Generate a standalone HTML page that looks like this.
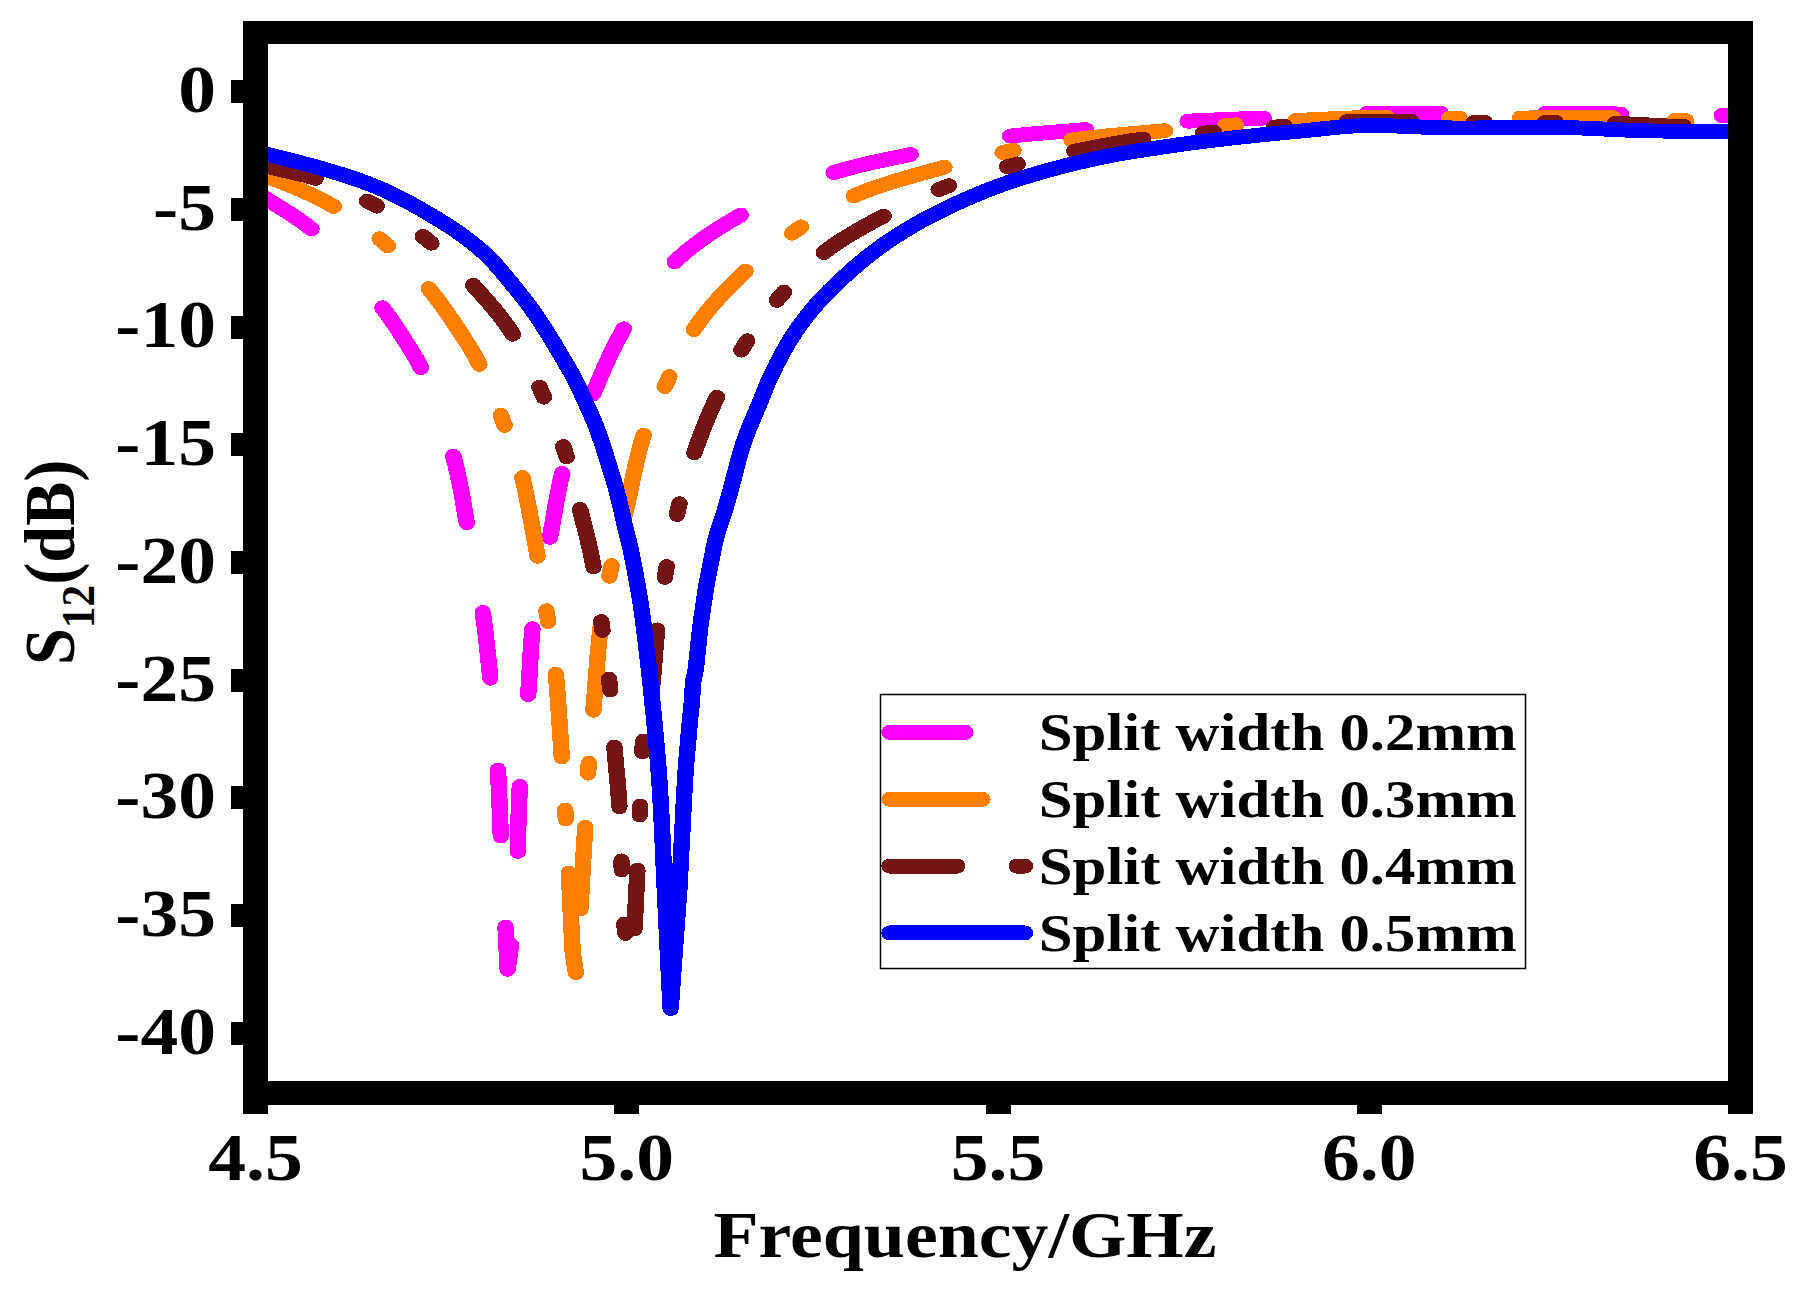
<!DOCTYPE html>
<html><head><meta charset="utf-8"><title>S12 vs Frequency</title><style>html,body{margin:0;padding:0;background:#fff}svg{display:block}</style></head><body>
<svg width="1805" height="1297" viewBox="0 0 1805 1297">
<rect x="0" y="0" width="1805" height="1297" fill="#fff"/>
<defs><clipPath id="pc"><rect x="268" y="44" width="1460" height="1037"/></clipPath></defs>
<g clip-path="url(#pc)"><g transform="scale(1.1,1)" fill="none" stroke-width="14.9" stroke-linecap="round" stroke-linejoin="round" shape-rendering="crispEdges">
<path d="M232.27,192.00 L234.57,193.63 L236.87,195.25 L239.17,196.87 L241.47,198.49 L243.77,200.10 L246.09,201.69 L248.42,203.27 L250.75,204.84 L253.08,206.40 L255.42,207.97 L257.74,209.54 L260.06,211.14 L262.36,212.75 L264.64,214.40 L266.90,216.07 L269.18,217.76 L271.45,219.45 L273.71,221.17 L275.95,222.92 L278.16,224.70 L280.32,226.52 L282.43,228.39 L283.12,229.02 M347.72,307.85 L349.37,310.23 L350.99,312.64 L352.60,315.06 L354.19,317.51 L355.76,319.97 L357.32,322.45 L358.86,324.94 L360.38,327.44 L361.89,329.95 L363.38,332.47 L364.87,334.99 L366.34,337.52 L367.83,340.05 L369.31,342.58 L370.80,345.12 L372.27,347.67 L373.73,350.24 L375.17,352.81 L376.57,355.39 L377.95,357.99 L379.28,360.61 L380.57,363.25 L381.80,365.90 L382.59,367.68 M412.03,456.06 L412.74,458.95 L413.42,461.85 L414.08,464.76 L414.72,467.68 L415.35,470.61 L415.96,473.54 L416.55,476.48 L417.12,479.43 L417.69,482.37 L418.24,485.32 L418.78,488.26 L419.31,491.21 L419.82,494.16 L420.31,497.11 L420.79,500.07 L421.25,503.03 L421.71,505.99 L422.16,508.96 L422.61,511.92 L423.06,514.89 L423.51,517.85 L423.97,520.81 L424.29,522.78 M438.87,612.49 L439.25,615.46 L439.63,618.44 L440.00,621.41 L440.36,624.39 L440.71,627.37 L441.05,630.35 L441.38,633.34 L441.71,636.32 L442.03,639.30 L442.35,642.29 L442.65,645.27 L442.95,648.26 L443.25,651.25 L443.53,654.23 L443.81,657.22 L444.09,660.21 L444.36,663.20 L444.62,666.19 L444.88,669.18 L445.14,672.17 L445.40,675.17 L445.65,678.16 M452.70,769.96 L452.86,772.96 L453.00,775.96 L453.14,778.96 L453.27,781.96 L453.39,784.96 L453.51,787.96 L453.63,790.96 L453.74,793.97 L453.86,796.97 L453.97,799.97 L454.09,802.97 L454.20,805.97 L454.31,808.97 L454.42,811.98 L454.53,814.98 L454.63,817.98 L454.74,820.98 L454.84,823.98 L454.95,826.99 L455.06,829.99 L455.17,832.99 L455.29,835.99 M459.55,927.00 L459.68,930.02 L459.82,933.04 L459.95,936.06 L460.09,939.09 L460.23,942.11 L460.36,945.13 L460.50,948.15 L460.64,951.17 L460.77,954.19 L460.91,957.21 L461.05,960.24 L461.18,963.26 L461.32,966.28 L461.45,969.30 L461.85,966.28 L462.24,963.27 L462.64,960.25 L463.03,957.23 L463.42,954.22 L463.82,951.20 L464.21,948.18 L464.61,945.17 M470.82,851.40 L470.83,848.39 L470.86,845.39 L470.89,842.38 L470.93,839.38 L470.98,836.37 L471.03,833.37 L471.09,830.36 L471.16,827.36 L471.24,824.36 L471.32,821.36 L471.41,818.35 L471.50,815.35 L471.59,812.35 L471.69,809.35 L471.80,806.35 L471.90,803.35 L472.01,800.35 L472.12,797.35 L472.24,794.35 L472.35,791.36 L472.47,788.36 L472.55,786.36 M480.18,694.65 L480.38,691.66 L480.57,688.66 L480.74,685.66 L480.91,682.66 L481.08,679.66 L481.24,676.66 L481.39,673.65 L481.54,670.65 L481.69,667.64 L481.84,664.64 L481.98,661.64 L482.14,658.63 L482.29,655.63 L482.45,652.63 L482.62,649.63 L482.79,646.64 L482.97,643.64 L483.16,640.65 L483.37,637.67 L483.59,634.68 L483.82,631.70 L484.06,628.72 M499.98,537.30 L500.49,534.34 L500.99,531.39 L501.48,528.42 L501.96,525.46 L502.43,522.49 L502.90,519.52 L503.37,516.54 L503.84,513.57 L504.31,510.60 L504.78,507.63 L505.26,504.66 L505.74,501.70 L506.24,498.74 L506.74,495.78 L507.26,492.84 L507.80,489.90 L508.35,486.96 L508.92,484.04 L509.51,481.13 L510.12,478.22 L510.76,475.33 L511.20,473.41 M539.07,394.04 L540.15,391.28 L541.22,388.52 L542.29,385.75 L543.37,382.97 L544.45,380.20 L545.53,377.42 L546.62,374.65 L547.72,371.88 L548.83,369.11 L549.95,366.35 L551.07,363.59 L552.21,360.84 L553.36,358.10 L554.52,355.36 L555.70,352.64 L556.89,349.94 L558.10,347.24 L559.32,344.56 L560.57,341.90 L561.83,339.26 L563.11,336.64 L564.42,334.03 L565.74,331.45 L567.10,328.89 M613.34,261.91 L615.25,259.91 L617.21,257.93 L619.20,255.97 L621.22,254.03 L623.28,252.11 L625.37,250.21 L627.49,248.33 L629.64,246.47 L631.81,244.63 L634.01,242.81 L636.23,241.01 L638.47,239.23 L640.73,237.47 L643.01,235.73 L645.31,234.02 L647.62,232.32 L649.94,230.64 L652.27,228.99 L654.61,227.35 L656.96,225.74 L659.31,224.14 L661.67,222.57 L664.03,221.01 L666.39,219.48 L668.74,217.97 L671.09,216.48 L673.44,215.01 M757.88,172.60 L760.46,171.73 L763.05,170.89 L765.65,170.07 L768.26,169.26 L770.87,168.48 L773.50,167.71 L776.14,166.96 L778.78,166.23 L781.43,165.51 L784.09,164.81 L786.75,164.11 L789.42,163.44 L792.09,162.77 L794.77,162.11 L797.45,161.46 L800.13,160.82 L802.82,160.19 L805.50,159.57 L808.19,158.95 L810.88,158.33 L813.56,157.72 L816.25,157.11 L818.93,156.50 L821.61,155.89 L824.29,155.28 L826.96,154.67 L827.85,154.47 M918.24,136.16 L920.95,135.82 L923.65,135.50 L926.36,135.18 L929.07,134.88 L931.79,134.59 L934.50,134.30 L937.22,134.03 L939.94,133.76 L942.66,133.50 L945.38,133.25 L948.10,133.00 L950.83,132.76 L953.55,132.52 L956.27,132.29 L959.00,132.05 L961.72,131.82 L964.45,131.59 L967.18,131.36 L969.90,131.13 L972.63,130.90 L975.35,130.67 L978.07,130.43 L980.80,130.19 L983.52,129.95 L986.24,129.70 L987.15,129.62 M1079.65,121.22 L1082.38,121.06 L1085.10,120.90 L1087.83,120.75 L1090.56,120.60 L1093.28,120.46 L1096.01,120.33 L1098.74,120.19 L1101.46,120.06 L1104.19,119.94 L1106.92,119.81 L1109.65,119.69 L1112.37,119.57 L1115.10,119.46 L1117.83,119.34 L1120.56,119.22 L1123.29,119.11 L1126.02,119.00 L1128.75,118.88 L1131.47,118.77 L1134.20,118.65 L1136.93,118.53 L1139.66,118.42 L1142.39,118.29 L1145.12,118.17 L1147.84,118.05 L1148.75,118.00 M1242.39,113.50 L1245.12,113.49 L1247.85,113.47 L1250.58,113.46 L1253.31,113.45 L1256.04,113.43 L1258.77,113.42 L1261.50,113.41 L1264.23,113.40 L1266.96,113.39 L1269.69,113.38 L1272.42,113.37 L1275.15,113.36 L1277.88,113.35 L1280.61,113.34 L1283.34,113.33 L1286.07,113.33 L1288.80,113.32 L1291.53,113.32 L1294.26,113.31 L1296.99,113.31 L1299.72,113.31 L1302.45,113.30 L1305.18,113.30 L1307.91,113.30 L1309.73,113.30 M1404.37,113.50 L1407.10,113.51 L1409.83,113.52 L1412.56,113.53 L1415.29,113.54 L1418.02,113.56 L1420.75,113.57 L1423.48,113.59 L1426.21,113.61 L1428.94,113.62 L1431.67,113.64 L1434.40,113.66 L1437.13,113.68 L1439.86,113.70 L1442.59,113.72 L1445.32,113.74 L1448.05,113.77 L1450.78,113.79 L1453.51,113.81 L1456.24,113.84 L1458.97,113.86 L1461.70,113.89 L1464.43,113.91 L1467.16,113.94 L1469.89,113.96 L1472.62,113.99 L1473.53,114.00 M1565.43,115.50 L1568.16,115.50 L1570.89,115.50 L1573.62,115.50 L1576.35,115.50 L1579.08,115.50 L1581.81,115.50 L1584.54,115.50 L1586.36,115.50" stroke="#ff00ff"/>
<path d="M232.27,173.00 L234.89,173.87 L237.51,174.75 L240.11,175.67 L242.69,176.63 L245.25,177.64 L247.82,178.68 L250.38,179.73 L252.94,180.80 L255.49,181.88 L258.05,182.98 L260.60,184.10 L263.15,185.24 L265.69,186.39 L268.23,187.56 L270.76,188.75 L273.28,189.96 L275.80,191.18 L278.30,192.43 L280.79,193.69 L283.28,194.97 L285.75,196.27 L288.21,197.58 L290.65,198.92 L293.08,200.27 L295.49,201.65 L297.89,203.04 L300.27,204.45 L302.64,205.88 L303.42,206.37 M389.80,288.64 L391.53,290.95 L393.24,293.28 L394.92,295.64 L396.59,298.01 L398.24,300.41 L399.88,302.82 L401.50,305.25 L403.10,307.70 L404.69,310.15 L406.27,312.62 L407.83,315.10 L409.38,317.58 L410.92,320.06 L412.45,322.55 L413.97,325.05 L415.48,327.54 L417.00,330.04 L418.52,332.55 L420.02,335.07 L421.52,337.60 L423.01,340.14 L424.49,342.68 L425.94,345.24 L427.38,347.81 L428.79,350.39 L430.18,352.98 L431.53,355.58 L432.86,358.20 L434.14,360.83 L435.40,363.48 L435.80,364.37 M474.91,477.60 L475.56,480.51 L476.18,483.42 L476.78,486.34 L477.36,489.28 L477.92,492.22 L478.46,495.17 L478.99,498.12 L479.51,501.08 L480.02,504.04 L480.52,507.00 L481.02,509.96 L481.52,512.92 L482.02,515.88 L482.53,518.83 L483.04,521.78 L483.54,524.74 L484.04,527.69 L484.54,530.65 L485.03,533.60 L485.51,536.56 L486.00,539.52 L486.47,542.48 L486.95,545.44 L487.42,548.40 L487.89,551.36 L488.35,554.32 L488.66,556.29 M505.24,674.08 L505.51,677.07 L505.77,680.05 L506.01,683.05 L506.24,686.04 L506.46,689.03 L506.68,692.03 L506.89,695.03 L507.09,698.03 L507.28,701.02 L507.48,704.02 L507.67,707.02 L507.86,710.02 L508.05,713.02 L508.25,716.02 L508.44,719.01 L508.62,722.01 L508.80,725.01 L508.98,728.01 L509.16,731.01 L509.33,734.01 L509.51,737.01 L509.68,740.00 L509.85,743.00 L510.02,746.00 L510.19,749.00 L510.37,752.00 L510.54,755.00 L510.66,757.00 M517.18,872.96 L517.32,875.97 L517.45,878.97 L517.59,881.97 L517.72,884.97 L517.84,887.97 L517.97,890.97 L518.09,893.98 L518.21,896.98 L518.33,899.98 L518.45,902.98 L518.57,905.98 L518.70,908.99 L518.82,911.99 L518.94,914.99 L519.07,917.99 L519.19,920.99 L519.32,923.99 L519.45,927.00 L519.59,930.00 L519.73,933.00 L519.87,936.00 L520.02,939.00 L520.17,942.00 L520.32,945.00 L520.47,948.00 L520.62,951.00 L520.87,953.99 L521.29,956.96 L521.71,959.93 L522.14,962.90 L522.56,965.87 L522.98,968.84 L523.40,971.81 L523.55,972.80 M527.73,909.00 L527.88,906.00 L528.02,903.00 L528.17,900.01 L528.32,897.01 L528.47,894.01 L528.63,891.01 L528.78,888.02 L528.93,885.02 L529.08,882.02 L529.24,879.02 L529.39,876.03 L529.55,873.03 L529.70,870.03 L529.86,867.04 L530.02,864.04 L530.18,861.04 L530.34,858.05 L530.50,855.05 L530.67,852.05 L530.83,849.06 L531.00,846.06 L531.16,843.06 L531.33,840.07 L531.49,837.07 L531.65,834.07 L531.81,831.07 L531.97,828.08 L532.02,827.08 M539.43,710.29 L539.66,707.30 L539.89,704.31 L540.11,701.32 L540.33,698.32 L540.54,695.33 L540.75,692.33 L540.96,689.33 L541.17,686.34 L541.38,683.34 L541.59,680.34 L541.79,677.35 L542.00,674.35 L542.21,671.35 L542.43,668.36 L542.65,665.36 L542.87,662.37 L543.09,659.38 L543.32,656.39 L543.56,653.39 L543.81,650.41 L544.06,647.42 L544.31,644.43 L544.58,641.45 L544.86,638.46 L545.14,635.48 L545.44,632.51 L545.75,629.53 L545.96,627.55 M568.11,514.14 L568.75,511.22 L569.38,508.30 L570.00,505.36 L570.60,502.43 L571.19,499.49 L571.78,496.54 L572.36,493.59 L572.93,490.64 L573.50,487.69 L574.06,484.74 L574.63,481.79 L575.20,478.83 L575.77,475.88 L576.34,472.94 L576.93,470.00 L577.52,467.06 L578.12,464.12 L578.73,461.20 L579.36,458.28 L580.00,455.36 L580.66,452.46 L581.34,449.57 L582.04,446.68 L582.76,443.81 L583.50,440.95 L584.27,438.10 L585.07,435.26 M630.78,329.60 L632.27,327.16 L633.80,324.73 L635.36,322.32 L636.96,319.92 L638.60,317.54 L640.26,315.17 L641.96,312.81 L643.68,310.48 L645.43,308.15 L647.21,305.85 L649.01,303.55 L650.83,301.28 L652.67,299.02 L654.54,296.77 L656.41,294.54 L658.31,292.33 L660.22,290.13 L662.14,287.95 L664.07,285.78 L666.01,283.63 L667.96,281.49 L669.91,279.38 L671.87,277.27 L673.83,275.19 L675.79,273.12 L677.75,271.06 M776.14,195.90 L778.61,194.76 L781.09,193.63 L783.59,192.53 L786.10,191.46 L788.63,190.40 L791.17,189.37 L793.72,188.36 L796.28,187.36 L798.85,186.38 L801.44,185.42 L804.03,184.48 L806.63,183.55 L809.24,182.64 L811.86,181.74 L814.48,180.86 L817.11,179.98 L819.75,179.12 L822.38,178.27 L825.03,177.43 L827.67,176.59 L830.32,175.76 L832.97,174.94 L835.62,174.13 L838.27,173.32 L840.92,172.52 L843.57,171.72 L846.22,170.92 L848.87,170.12 L851.51,169.32 L854.14,168.53 L856.78,167.73 L858.53,167.19 M974.11,139.96 L976.81,139.58 L979.51,139.21 L982.22,138.84 L984.92,138.49 L987.63,138.14 L990.34,137.80 L993.05,137.47 L995.76,137.15 L998.47,136.83 L1001.19,136.52 L1003.90,136.21 L1006.62,135.92 L1009.34,135.62 L1012.06,135.33 L1014.77,135.05 L1017.49,134.77 L1020.21,134.49 L1022.93,134.22 L1025.65,133.95 L1028.38,133.68 L1031.10,133.41 L1033.82,133.15 L1036.54,132.89 L1039.26,132.63 L1041.98,132.36 L1044.70,132.10 L1047.42,131.84 L1050.14,131.58 L1052.86,131.32 L1055.58,131.05 L1058.30,130.79 L1059.21,130.70 M1178.02,120.52 L1180.75,120.38 L1183.47,120.23 L1186.20,120.08 L1188.92,119.93 L1191.65,119.79 L1194.37,119.64 L1197.10,119.49 L1199.83,119.34 L1202.55,119.20 L1205.28,119.06 L1208.01,118.92 L1210.74,118.78 L1213.46,118.65 L1216.19,118.52 L1218.92,118.39 L1221.65,118.27 L1224.38,118.15 L1227.10,118.04 L1229.83,117.94 L1232.56,117.84 L1235.29,117.75 L1238.02,117.66 L1240.75,117.59 L1243.48,117.52 L1246.20,117.46 L1248.93,117.41 L1251.66,117.37 L1254.39,117.33 L1257.12,117.31 L1259.85,117.30 L1260.75,117.30 M1381.74,118.00 L1384.47,117.98 L1387.20,117.97 L1389.93,117.95 L1392.65,117.93 L1395.38,117.91 L1398.11,117.90 L1400.84,117.88 L1403.57,117.86 L1406.30,117.84 L1409.03,117.82 L1411.76,117.81 L1414.49,117.79 L1417.22,117.77 L1419.95,117.76 L1422.68,117.74 L1425.41,117.73 L1428.14,117.71 L1430.87,117.70 L1433.60,117.68 L1436.33,117.67 L1439.06,117.66 L1441.79,117.65 L1444.51,117.64 L1447.24,117.63 L1449.97,117.62 L1452.70,117.62 L1455.43,117.61 L1458.16,117.61 L1460.89,117.60 L1463.61,117.60 L1466.34,117.60 M345.12,238.73 L347.20,240.66 L349.26,242.59 L351.30,244.54 L352.65,245.86 M455.23,415.15 L456.20,417.96 L457.16,420.77 L458.13,423.57 L458.78,425.45 M496.76,610.66 L497.18,613.63 L497.59,616.60 L498.02,619.56 L498.30,621.54 M513.84,809.97 L514.01,812.97 L514.18,815.97 L514.35,818.97 M534.66,773.12 L534.83,770.12 L535.01,767.13 L535.20,764.13 L535.27,763.14 M553.93,576.24 L554.48,573.31 L555.03,570.37 L555.60,567.44 L555.99,565.49 M604.24,386.59 L605.42,383.88 L606.59,381.17 L607.75,378.45 L608.53,376.63 M720.10,233.13 L722.33,231.42 L724.56,229.72 L726.79,228.02 L728.29,226.89 M911.47,152.54 L914.14,151.91 L916.80,151.29 L919.47,150.68 L921.25,150.28 M1113.60,125.72 L1116.32,125.48 L1119.04,125.25 L1121.77,125.02 L1123.58,124.86 M1317.15,118.48 L1319.88,118.50 L1322.61,118.50 L1325.34,118.50 L1327.15,118.49 M1522.69,120.52 L1525.41,120.58 L1528.14,120.62 L1530.87,120.65 L1532.69,120.67" stroke="#ff8000"/>
<path d="M232.27,163.00 L234.89,163.85 L237.51,164.70 L240.14,165.53 L242.77,166.34 L245.41,167.12 L248.06,167.86 L250.72,168.58 L253.39,169.28 L256.06,169.95 L258.74,170.62 L261.42,171.28 L264.09,171.94 L266.77,172.60 L269.44,173.28 L272.10,173.96 L274.76,174.67 L277.40,175.40 L280.03,176.17 L282.65,176.97 L285.25,177.81 L286.97,178.39 M430.17,285.15 L431.99,287.37 L433.82,289.60 L435.65,291.84 L437.48,294.09 L439.31,296.35 L441.14,298.62 L442.95,300.89 L444.76,303.18 L446.55,305.48 L448.33,307.80 L450.10,310.13 L451.84,312.47 L453.56,314.82 L455.25,317.19 L456.92,319.58 L458.56,321.98 L460.17,324.40 L461.74,326.83 L463.27,329.28 L464.77,331.76 L466.22,334.25 M527.37,509.42 L528.03,512.34 L528.70,515.25 L529.37,518.17 L530.04,521.09 L530.72,524.00 L531.40,526.92 L532.07,529.84 L532.74,532.76 L533.40,535.68 L534.05,538.60 L534.70,541.52 L535.33,544.45 L535.95,547.37 L536.56,550.30 L537.14,553.24 L537.71,556.17 L538.26,559.11 L538.78,562.06 L539.28,565.00 L539.60,566.97 M558.57,747.00 L558.80,749.99 L559.03,752.99 L559.27,755.98 L559.52,758.98 L559.77,761.97 L560.02,764.97 L560.28,767.96 L560.53,770.95 L560.79,773.95 L561.04,776.94 L561.29,779.93 L561.53,782.93 L561.76,785.92 L561.99,788.91 L562.21,791.91 L562.42,794.91 L562.61,797.90 L562.79,800.90 L562.96,803.90 L563.10,806.89 M576.82,929.00 L576.95,926.00 L577.09,923.00 L577.22,920.00 L577.35,917.00 L577.49,914.00 L577.62,911.00 L577.76,908.00 L577.89,905.00 L578.02,902.00 L578.16,899.00 L578.29,896.00 L578.43,893.00 L578.56,890.00 L578.69,887.00 L578.83,884.00 L578.96,881.00 L579.10,878.00 L579.23,875.00 L579.37,872.00 L579.45,870.00 M592.55,689.67 L592.86,686.69 L593.15,683.71 L593.43,680.73 L593.69,677.74 L593.94,674.75 L594.18,671.76 L594.40,668.77 L594.62,665.77 L594.84,662.78 L595.05,659.78 L595.27,656.78 L595.48,653.79 L595.70,650.79 L595.92,647.80 L596.15,644.80 L596.39,641.81 L596.63,638.82 L596.90,635.83 L597.17,632.85 L597.47,629.87 M631.26,452.83 L632.14,450.00 L633.03,447.17 L633.95,444.34 L634.88,441.52 L635.83,438.70 L636.79,435.89 L637.77,433.08 L638.77,430.28 L639.78,427.48 L640.80,424.69 L641.84,421.90 L642.89,419.12 L643.96,416.35 L645.03,413.58 L646.12,410.82 L647.21,408.07 L648.32,405.33 L649.44,402.59 L650.56,399.86 L651.70,397.14 M748.93,252.54 L751.05,250.74 L753.20,248.97 L755.38,247.23 L757.59,245.51 L759.82,243.82 L762.08,242.15 L764.36,240.51 L766.66,238.88 L768.98,237.28 L771.31,235.70 L773.67,234.13 L776.03,232.59 L778.41,231.06 L780.80,229.54 L783.20,228.04 L785.60,226.56 L788.01,225.09 L790.42,223.63 L792.84,222.18 L795.25,220.74 L797.67,219.31 L800.08,217.89 L802.48,216.48 L803.28,216.01 M976.65,151.24 L979.32,150.65 L982.00,150.06 L984.67,149.47 L987.35,148.88 L990.03,148.30 L992.71,147.71 L995.39,147.14 L998.08,146.56 L1000.76,145.99 L1003.45,145.43 L1006.13,144.88 L1008.82,144.33 L1011.51,143.79 L1014.20,143.27 L1016.89,142.75 L1019.58,142.25 L1022.28,141.76 L1024.97,141.28 L1027.67,140.82 L1030.36,140.38 L1033.06,139.95 L1035.76,139.54 L1038.46,139.15 L1039.36,139.03 M1224.30,121.60 L1227.02,121.60 L1229.75,121.60 L1232.48,121.60 L1235.21,121.60 L1237.94,121.60 L1240.66,121.60 L1243.39,121.60 L1246.12,121.60 L1248.85,121.60 L1251.58,121.60 L1254.32,121.60 L1257.05,121.60 L1259.78,121.60 L1262.51,121.60 L1265.24,121.60 L1267.97,121.60 L1270.70,121.60 L1273.43,121.60 L1276.16,121.60 L1278.89,121.60 L1281.62,121.60 L1283.44,121.60 M1468.14,123.40 L1470.87,123.48 L1473.60,123.57 L1476.32,123.68 L1479.05,123.81 L1481.78,123.95 L1484.51,124.09 L1487.23,124.25 L1489.96,124.42 L1492.69,124.58 L1495.41,124.76 L1498.14,124.93 L1500.86,125.10 L1503.59,125.28 L1506.32,125.44 L1509.04,125.61 L1511.77,125.76 L1514.50,125.91 L1517.22,126.04 L1519.95,126.17 L1522.68,126.27 L1525.41,126.37 L1528.13,126.44 L1530.86,126.50 M333.71,200.94 L336.11,202.34 L338.50,203.74 L340.88,205.16 L342.47,206.12 M384.47,236.39 L386.60,238.22 L388.71,240.07 L390.80,241.94 L392.18,243.22 M490.41,387.02 L491.52,389.77 L492.62,392.51 L493.71,395.26 L494.44,397.09 M512.14,446.53 L512.99,449.38 L513.80,452.23 L514.60,455.09 L515.12,457.00 M546.61,621.52 L546.98,624.50 L547.35,627.48 L547.73,630.45 M553.72,679.10 L554.01,682.09 L554.28,685.07 L554.53,688.06 L554.70,690.06 M564.95,860.95 L565.05,863.95 L565.16,866.96 L565.27,869.96 M567.52,924.09 L567.89,927.23 L568.26,930.36 L568.64,933.50 M581.66,815.00 L581.78,812.00 L581.89,809.00 L582.00,806.00 M583.97,751.98 L584.13,748.99 L584.31,746.01 L584.53,743.03 L584.71,741.04 M604.44,577.37 L604.89,574.41 L605.34,571.45 L605.80,568.49 L606.11,566.52 M615.43,514.46 L616.04,511.54 L616.66,508.62 L617.29,505.70 L617.73,503.76 M674.09,350.11 L675.49,347.56 L676.91,345.02 L678.36,342.49 L679.33,340.81 M706.24,300.34 L707.98,298.05 L709.73,295.78 L711.49,293.51 L712.68,291.99 M853.36,189.60 L855.89,188.49 L858.41,187.41 L860.95,186.34 L862.64,185.63 M915.49,166.79 L918.12,166.00 L920.74,165.22 L923.38,164.46 L925.14,163.96 M1093.70,133.14 L1096.41,132.88 L1099.13,132.61 L1101.85,132.34 L1103.66,132.16 M1158.07,127.13 L1160.79,126.89 L1163.51,126.65 L1166.23,126.40 L1168.04,126.23 M1339.85,122.39 L1342.58,122.40 L1345.31,122.40 L1348.04,122.40 L1349.86,122.40 M1404.46,122.40 L1407.18,122.40 L1409.91,122.40 L1412.64,122.40 L1414.46,122.41" stroke="#741414"/>
<path d="M232.27,151.00 L234.91,151.79 L237.54,152.59 L240.18,153.37 L242.81,154.16 L245.45,154.93 L248.09,155.69 L250.74,156.45 L253.38,157.19 L256.03,157.93 L258.68,158.67 L261.33,159.40 L263.98,160.14 L266.63,160.87 L269.28,161.61 L271.92,162.35 L274.57,163.10 L277.21,163.86 L279.85,164.62 L282.48,165.40 L285.12,166.19 L287.74,167.00 L290.37,167.83 L292.99,168.67 L295.61,169.51 L298.23,170.36 L300.85,171.21 L303.48,172.08 L306.10,172.95 L308.72,173.84 L311.34,174.73 L313.95,175.64 L316.55,176.57 L319.15,177.50 L321.75,178.46 L324.33,179.43 L326.90,180.43 L329.47,181.44 L332.02,182.48 L334.56,183.54 L337.09,184.62 L339.60,185.73 L342.11,186.87 L344.62,188.04 L347.12,189.24 L349.61,190.47 L352.10,191.72 L354.58,193.00 L357.05,194.30 L359.52,195.63 L361.97,196.98 L364.42,198.34 L366.86,199.73 L369.29,201.13 L371.71,202.55 L374.12,203.98 L376.52,205.43 L378.91,206.89 L381.29,208.37 L383.66,209.85 L386.01,211.34 L388.36,212.85 L390.70,214.36 L393.04,215.89 L395.39,217.44 L397.73,219.01 L400.07,220.60 L402.41,222.20 L404.74,223.82 L407.06,225.46 L409.37,227.12 L411.67,228.79 L413.95,230.49 L416.22,232.21 L418.48,233.95 L420.71,235.70 L422.93,237.48 L425.12,239.28 L427.29,241.11 L429.43,242.95 L431.55,244.82 L433.64,246.70 L435.69,248.62 L437.72,250.55 L439.71,252.52 L441.68,254.54 L443.61,256.60 L445.53,258.72 L447.41,260.87 L449.28,263.06 L451.13,265.28 L452.95,267.53 L454.76,269.81 L456.55,272.11 L458.33,274.42 L460.10,276.75 L461.85,279.09 L463.60,281.44 L465.33,283.79 L467.06,286.13 L468.79,288.47 L470.51,290.80 L472.22,293.13 L473.92,295.48 L475.61,297.85 L477.28,300.23 L478.93,302.62 L480.57,305.03 L482.19,307.45 L483.79,309.88 L485.38,312.33 L486.94,314.79 L488.48,317.26 L490.01,319.75 L491.51,322.26 L493.00,324.78 L494.48,327.31 L495.95,329.84 L497.41,332.39 L498.86,334.93 L500.30,337.48 L501.73,340.04 L503.15,342.60 L504.55,345.18 L505.95,347.76 L507.34,350.35 L508.73,352.93 L510.11,355.52 L511.49,358.11 L512.88,360.70 L514.28,363.28 L515.68,365.87 L517.08,368.46 L518.45,371.05 L519.81,373.66 L521.13,376.29 L522.41,378.93 L523.64,381.61 L524.83,384.30 L525.99,387.02 L527.12,389.76 L528.23,392.51 L529.34,395.26 L530.45,398.00 L531.58,400.74 L532.72,403.47 L533.88,406.19 L535.04,408.92 L536.19,411.64 L537.32,414.38 L538.43,417.12 L539.50,419.88 L540.53,422.66 L541.52,425.45 L542.49,428.26 L543.43,431.08 L544.36,433.91 L545.26,436.74 L546.15,439.59 L547.03,442.43 L547.90,445.28 L548.76,448.13 L549.60,450.99 L550.42,453.85 L551.23,456.72 L552.04,459.59 L552.84,462.46 L553.64,465.33 L554.45,468.20 L555.26,471.07 L556.08,473.94 L556.89,476.81 L557.69,479.68 L558.47,482.56 L559.24,485.44 L559.97,488.33 L560.68,491.23 L561.37,494.13 L562.04,497.05 L562.70,499.96 L563.34,502.88 L563.98,505.81 L564.60,508.73 L565.23,511.65 L565.83,514.58 L566.41,517.52 L566.98,520.46 L567.56,523.40 L568.14,526.33 L568.74,529.26 L569.38,532.18 L570.08,535.08 L570.86,537.96 L571.56,540.86 L572.20,543.78 L572.81,546.71 L573.39,549.64 L573.96,552.58 L574.51,555.53 L575.05,558.47 L575.59,561.42 L576.12,564.36 L576.63,567.31 L577.14,570.26 L577.64,573.22 L578.13,576.17 L578.61,579.13 L579.09,582.09 L579.56,585.05 L580.03,588.00 L580.50,590.96 L580.96,593.93 L581.41,596.89 L581.86,599.85 L582.29,602.82 L582.71,605.78 L583.11,608.75 L583.49,611.73 L583.87,614.70 L584.23,617.68 L584.59,620.66 L584.94,623.64 L585.29,626.62 L585.64,629.60 L585.98,632.58 L586.31,635.56 L586.65,638.54 L586.97,641.52 L587.30,644.50 L587.62,647.49 L587.94,650.47 L588.27,653.45 L588.59,656.43 L588.91,659.42 L589.23,662.40 L589.55,665.38 L589.86,668.37 L590.17,671.35 L590.47,674.34 L590.76,677.32 L591.05,680.31 L591.34,683.30 L591.62,686.28 L591.90,689.27 L592.18,692.26 L592.45,695.25 L592.73,698.24 L593.00,701.22 L593.28,704.21 L593.55,707.20 L593.83,710.19 L594.10,713.18 L594.37,716.17 L594.63,719.16 L594.90,722.15 L595.15,725.14 L595.41,728.13 L595.66,731.12 L595.90,734.11 L596.15,737.10 L596.39,740.09 L596.63,743.09 L596.87,746.08 L597.11,749.07 L597.35,752.06 L597.59,755.05 L597.83,758.05 L598.07,761.04 L598.29,764.03 L598.51,767.03 L598.72,770.02 L598.92,773.02 L599.11,776.01 L599.30,779.01 L599.48,782.01 L599.66,785.00 L599.83,788.00 L600.00,791.00 L600.17,794.00 L600.33,797.00 L600.49,799.99 L600.64,802.99 L600.79,805.99 L600.94,808.99 L601.08,811.99 L601.23,814.99 L601.36,817.99 L601.50,820.99 L601.64,823.99 L601.77,826.99 L601.91,829.99 L602.04,832.99 L602.17,835.99 L602.30,838.99 L602.43,841.99 L602.56,844.99 L602.68,847.99 L602.80,850.99 L602.92,853.99 L603.04,856.99 L603.16,859.99 L603.27,863.00 L603.38,866.00 L603.49,869.00 L603.60,872.00 L603.72,875.01 L603.86,878.02 L603.99,881.03 L604.12,884.04 L604.25,887.05 L604.39,890.06 L604.52,893.07 L604.65,896.08 L604.78,899.10 L604.92,902.11 L605.05,905.12 L605.18,908.13 L605.31,911.14 L605.45,914.15 L605.58,917.16 L605.71,920.17 L605.84,923.18 L605.97,926.19 L606.11,929.21 L606.24,932.22 L606.37,935.23 L606.50,938.24 L606.64,941.25 L606.77,944.26 L606.90,947.27 L607.03,950.28 L607.17,953.29 L607.30,956.31 L607.43,959.32 L607.56,962.33 L607.70,965.34 L607.83,968.35 L607.96,971.36 L608.09,974.37 L608.22,977.38 L608.36,980.39 L608.49,983.40 L608.62,986.42 L608.75,989.43 L608.89,992.44 L609.02,995.45 L609.15,998.46 L609.28,1001.47 L609.42,1004.48 L609.55,1007.49 L609.70,1008.50 L609.90,1005.50 L610.10,1002.51 L610.29,999.51 L610.49,996.51 L610.69,993.51 L610.89,990.52 L611.08,987.52 L611.28,984.52 L611.48,981.52 L611.68,978.53 L611.87,975.53 L612.07,972.53 L612.27,969.53 L612.46,966.53 L612.66,963.54 L612.86,960.54 L613.06,957.54 L613.25,954.54 L613.45,951.55 L613.65,948.55 L613.85,945.55 L614.04,942.55 L614.24,939.56 L614.44,936.56 L614.64,933.56 L614.83,930.56 L615.03,927.57 L615.23,924.57 L615.42,921.57 L615.62,918.57 L615.82,915.58 L616.02,912.58 L616.21,909.58 L616.41,906.58 L616.61,903.59 L616.81,900.59 L617.00,897.59 L617.20,894.59 L617.40,891.60 L617.60,888.60 L617.77,885.60 L617.91,882.60 L618.05,879.60 L618.19,876.60 L618.33,873.61 L618.46,870.61 L618.60,867.61 L618.74,864.61 L618.88,861.61 L619.02,858.61 L619.16,855.61 L619.30,852.62 L619.44,849.62 L619.58,846.62 L619.72,843.62 L619.86,840.62 L620.00,837.62 L620.14,834.63 L620.28,831.63 L620.42,828.63 L620.56,825.63 L620.70,822.63 L620.84,819.63 L620.97,816.63 L621.11,813.64 L621.25,810.64 L621.38,807.64 L621.52,804.64 L621.66,801.64 L621.80,798.64 L621.95,795.64 L622.10,792.65 L622.25,789.65 L622.41,786.65 L622.57,783.65 L622.74,780.66 L622.91,777.66 L623.08,774.66 L623.27,771.67 L623.46,768.67 L623.67,765.68 L623.89,762.69 L624.13,759.70 L624.37,756.71 L624.61,753.72 L624.85,750.73 L625.09,747.73 L625.33,744.74 L625.55,741.75 L625.78,738.76 L626.01,735.77 L626.24,732.77 L626.47,729.78 L626.71,726.79 L626.96,723.80 L627.22,720.81 L627.50,717.83 L627.78,714.84 L628.06,711.85 L628.34,708.87 L628.60,705.88 L628.85,702.89 L629.08,699.89 L629.26,696.89 L629.43,693.88 L629.59,690.88 L629.77,687.88 L629.98,684.89 L630.25,681.91 L630.61,678.96 L631.31,676.05 L631.94,673.12 L632.35,670.17 L632.71,667.20 L633.03,664.22 L633.32,661.23 L633.59,658.23 L633.86,655.24 L634.15,652.25 L634.45,649.26 L634.74,646.28 L635.02,643.29 L635.30,640.30 L635.58,637.32 L635.88,634.33 L636.18,631.35 L636.50,628.37 L636.85,625.39 L637.21,622.41 L637.58,619.44 L637.96,616.47 L638.35,613.49 L638.75,610.52 L639.15,607.55 L639.54,604.58 L639.93,601.61 L640.33,598.64 L640.73,595.67 L641.14,592.70 L641.56,589.73 L642.00,586.77 L642.46,583.81 L642.94,580.86 L643.46,577.91 L643.99,574.97 L644.53,572.02 L645.08,569.08 L645.64,566.14 L646.18,563.20 L646.71,560.25 L647.23,557.30 L647.74,554.35 L648.25,551.39 L648.77,548.44 L649.32,545.50 L649.90,542.57 L650.53,539.66 L651.22,536.77 L651.97,533.89 L652.76,531.02 L653.60,528.16 L654.46,525.30 L655.33,522.45 L656.21,519.60 L657.07,516.75 L657.91,513.89 L658.72,511.02 L659.51,508.14 L660.28,505.26 L661.05,502.38 L661.80,499.50 L662.56,496.61 L663.29,493.72 L664.01,490.82 L664.72,487.92 L665.41,485.01 L666.10,482.09 L666.78,479.18 L667.45,476.26 L668.13,473.35 L668.81,470.44 L669.50,467.53 L670.19,464.62 L670.90,461.72 L671.62,458.82 L672.35,455.93 L673.11,453.06 L673.89,450.19 L674.69,447.33 L675.52,444.48 L676.39,441.65 L677.29,438.83 L678.22,436.02 L679.19,433.21 L680.18,430.42 L681.20,427.63 L682.23,424.85 L683.28,422.07 L684.34,419.30 L685.41,416.53 L686.48,413.76 L687.55,410.99 L688.62,408.22 L689.68,405.45 L690.73,402.67 L691.77,399.89 L692.79,397.10 L693.79,394.31 L694.80,391.51 L695.81,388.72 L696.84,385.94 L697.90,383.17 L698.99,380.43 L700.12,377.71 L701.27,374.99 L702.44,372.27 L703.63,369.56 L704.84,366.86 L706.07,364.16 L707.31,361.48 L708.58,358.80 L709.86,356.14 L711.16,353.49 L712.49,350.86 L713.83,348.24 L715.20,345.64 L716.59,343.06 L717.99,340.51 L719.42,337.97 L720.88,335.46 L722.37,332.96 L723.89,330.48 L725.45,328.00 L727.04,325.55 L728.65,323.11 L730.29,320.69 L731.95,318.29 L733.64,315.91 L735.34,313.55 L737.07,311.21 L738.81,308.90 L740.57,306.60 L742.33,304.34 L744.12,302.10 L745.95,299.88 L747.80,297.68 L749.68,295.51 L751.59,293.35 L753.52,291.21 L755.47,289.10 L757.43,287.00 L759.41,284.91 L761.40,282.84 L763.40,280.79 L765.40,278.75 L767.41,276.73 L769.43,274.71 L771.45,272.70 L773.49,270.70 L775.54,268.71 L777.60,266.73 L779.68,264.77 L781.76,262.82 L783.86,260.89 L785.98,258.97 L788.10,257.08 L790.24,255.21 L792.39,253.37 L794.55,251.55 L796.73,249.75 L798.92,247.99 L801.13,246.24 L803.35,244.51 L805.59,242.80 L807.85,241.10 L810.12,239.42 L812.40,237.76 L814.70,236.11 L817.00,234.49 L819.32,232.88 L821.64,231.30 L823.98,229.73 L826.32,228.18 L828.67,226.66 L831.03,225.15 L833.39,223.67 L835.76,222.20 L838.15,220.75 L840.54,219.32 L842.94,217.90 L845.36,216.50 L847.78,215.11 L850.21,213.73 L852.65,212.38 L855.10,211.03 L857.55,209.70 L860.02,208.39 L862.48,207.08 L864.95,205.80 L867.43,204.53 L869.91,203.27 L872.39,202.02 L874.88,200.79 L877.37,199.58 L879.86,198.37 L882.36,197.17 L884.87,195.99 L887.39,194.81 L889.91,193.65 L892.44,192.50 L894.97,191.37 L897.51,190.25 L900.05,189.15 L902.60,188.07 L905.16,187.00 L907.71,185.96 L910.28,184.94 L912.85,183.94 L915.42,182.96 L918.00,182.00 L920.58,181.05 L923.17,180.11 L925.77,179.18 L928.37,178.27 L930.97,177.36 L933.58,176.47 L936.20,175.59 L938.82,174.73 L941.44,173.87 L944.06,173.03 L946.69,172.20 L949.32,171.38 L951.95,170.57 L954.58,169.78 L957.22,168.99 L959.86,168.22 L962.49,167.46 L965.13,166.71 L967.77,165.97 L970.42,165.23 L973.07,164.50 L975.72,163.79 L978.37,163.07 L981.02,162.37 L983.68,161.68 L986.34,160.99 L989.01,160.32 L991.67,159.66 L994.34,159.00 L997.01,158.36 L999.68,157.73 L1002.35,157.12 L1005.03,156.51 L1007.70,155.92 L1010.38,155.34 L1013.06,154.78 L1015.74,154.23 L1018.42,153.70 L1021.11,153.19 L1023.80,152.69 L1026.49,152.21 L1029.19,151.73 L1031.89,151.27 L1034.59,150.81 L1037.29,150.36 L1039.99,149.91 L1042.69,149.46 L1045.39,149.01 L1048.08,148.56 L1050.78,148.11 L1053.48,147.66 L1056.18,147.21 L1058.88,146.77 L1061.58,146.33 L1064.28,145.89 L1066.98,145.45 L1069.69,145.02 L1072.39,144.60 L1075.09,144.18 L1077.79,143.76 L1080.50,143.35 L1083.20,142.95 L1085.91,142.56 L1088.61,142.18 L1091.32,141.81 L1094.03,141.44 L1096.74,141.07 L1099.45,140.71 L1102.16,140.35 L1104.87,139.99 L1107.58,139.64 L1110.29,139.28 L1113.00,138.94 L1115.71,138.59 L1118.42,138.25 L1121.13,137.91 L1123.85,137.57 L1126.56,137.24 L1129.27,136.91 L1131.99,136.58 L1134.70,136.26 L1137.42,135.94 L1140.13,135.62 L1142.85,135.30 L1145.56,134.99 L1148.28,134.68 L1150.99,134.38 L1153.71,134.07 L1156.42,133.77 L1159.14,133.47 L1161.86,133.18 L1164.57,132.89 L1167.29,132.60 L1170.01,132.31 L1172.73,132.03 L1175.44,131.75 L1178.16,131.47 L1180.88,131.19 L1183.59,130.92 L1186.31,130.63 L1189.03,130.33 L1191.75,130.02 L1194.47,129.71 L1197.19,129.39 L1199.91,129.07 L1202.62,128.75 L1205.34,128.43 L1208.06,128.11 L1210.78,127.81 L1213.50,127.51 L1216.23,127.22 L1218.95,126.95 L1221.67,126.69 L1224.39,126.46 L1227.11,126.24 L1229.83,126.05 L1232.56,125.88 L1235.28,125.74 L1238.00,125.63 L1240.73,125.55 L1243.45,125.51 L1246.18,125.50 L1248.90,125.51 L1251.63,125.54 L1254.35,125.59 L1257.08,125.64 L1259.80,125.71 L1262.53,125.79 L1265.26,125.88 L1267.99,125.98 L1270.71,126.08 L1273.44,126.20 L1276.17,126.31 L1278.90,126.43 L1281.63,126.56 L1284.36,126.68 L1287.09,126.81 L1289.82,126.93 L1292.55,127.06 L1295.27,127.18 L1298.00,127.30 L1300.73,127.41 L1303.46,127.51 L1306.19,127.61 L1308.92,127.70 L1311.65,127.78 L1314.38,127.85 L1317.11,127.91 L1319.84,127.95 L1322.57,127.98 L1325.30,128.00 L1328.03,128.00 L1330.76,128.00 L1333.49,127.99 L1336.22,127.98 L1338.95,127.97 L1341.68,127.96 L1344.40,127.94 L1347.13,127.93 L1349.86,127.91 L1352.59,127.89 L1355.32,127.87 L1358.05,127.85 L1360.78,127.83 L1363.51,127.81 L1366.24,127.78 L1368.97,127.76 L1371.70,127.74 L1374.43,127.71 L1377.16,127.69 L1379.89,127.67 L1382.62,127.64 L1385.35,127.62 L1388.08,127.60 L1390.81,127.58 L1393.54,127.57 L1396.27,127.55 L1399.00,127.54 L1401.73,127.53 L1404.46,127.52 L1407.18,127.51 L1409.91,127.50 L1412.64,127.50 L1415.37,127.50 L1418.10,127.52 L1420.83,127.55 L1423.56,127.60 L1426.28,127.66 L1429.01,127.74 L1431.74,127.82 L1434.47,127.91 L1437.20,128.02 L1439.92,128.13 L1442.65,128.25 L1445.38,128.38 L1448.11,128.51 L1450.83,128.65 L1453.56,128.79 L1456.29,128.93 L1459.02,129.08 L1461.74,129.23 L1464.47,129.37 L1467.20,129.52 L1469.93,129.67 L1472.65,129.81 L1475.38,129.95 L1478.11,130.08 L1480.84,130.21 L1483.56,130.34 L1486.29,130.45 L1489.02,130.56 L1491.75,130.66 L1494.48,130.75 L1497.20,130.83 L1499.93,130.89 L1502.66,130.95 L1505.39,130.99 L1508.12,131.02 L1510.85,131.05 L1513.58,131.07 L1516.31,131.10 L1519.04,131.12 L1521.76,131.15 L1524.49,131.17 L1527.22,131.20 L1529.95,131.22 L1532.68,131.24 L1535.41,131.26 L1538.14,131.28 L1540.87,131.30 L1543.60,131.31 L1546.33,131.33 L1549.06,131.34 L1551.79,131.36 L1554.52,131.37 L1557.25,131.38 L1559.98,131.39 L1562.71,131.39 L1565.44,131.40 L1568.17,131.40 L1570.90,131.40 L1573.63,131.40 L1576.36,131.40 L1579.09,131.40 L1581.81,131.40 L1584.54,131.40 L1586.36,131.40" stroke="#0000ff"/>
</g></g>
<g fill="#000" shape-rendering="crispEdges">
<rect x="243" y="21" width="1510" height="23"/>
<rect x="243" y="1081" width="1510" height="24"/>
<rect x="243" y="21" width="25" height="1093"/>
<rect x="1728" y="21" width="25" height="1093"/>
<rect x="231" y="80" width="13" height="23"/>
<rect x="231" y="198" width="13" height="23"/>
<rect x="231" y="316" width="13" height="23"/>
<rect x="231" y="433" width="13" height="23"/>
<rect x="231" y="551" width="13" height="23"/>
<rect x="231" y="669" width="13" height="23"/>
<rect x="231" y="786" width="13" height="23"/>
<rect x="231" y="904" width="13" height="23"/>
<rect x="231" y="1022" width="13" height="23"/>
<rect x="614" y="1104" width="25" height="10"/>
<rect x="986" y="1104" width="25" height="10"/>
<rect x="1357" y="1104" width="25" height="10"/>
</g>
<text transform="translate(216,111.8) scale(1.103,1)" font-family="Liberation Serif, Times New Roman, serif" font-weight="bold" font-size="68.5" text-anchor="end" fill="#000">0</text>
<text transform="translate(216,229.55) scale(1.103,1)" font-family="Liberation Serif, Times New Roman, serif" font-weight="bold" font-size="68.5" text-anchor="end" fill="#000">-5</text>
<text transform="translate(216,347.3) scale(1.103,1)" font-family="Liberation Serif, Times New Roman, serif" font-weight="bold" font-size="68.5" text-anchor="end" fill="#000">-10</text>
<text transform="translate(216,465.05) scale(1.103,1)" font-family="Liberation Serif, Times New Roman, serif" font-weight="bold" font-size="68.5" text-anchor="end" fill="#000">-15</text>
<text transform="translate(216,582.8) scale(1.103,1)" font-family="Liberation Serif, Times New Roman, serif" font-weight="bold" font-size="68.5" text-anchor="end" fill="#000">-20</text>
<text transform="translate(216,700.55) scale(1.103,1)" font-family="Liberation Serif, Times New Roman, serif" font-weight="bold" font-size="68.5" text-anchor="end" fill="#000">-25</text>
<text transform="translate(216,818.3) scale(1.103,1)" font-family="Liberation Serif, Times New Roman, serif" font-weight="bold" font-size="68.5" text-anchor="end" fill="#000">-30</text>
<text transform="translate(216,936.05) scale(1.103,1)" font-family="Liberation Serif, Times New Roman, serif" font-weight="bold" font-size="68.5" text-anchor="end" fill="#000">-35</text>
<text transform="translate(216,1053.8) scale(1.103,1)" font-family="Liberation Serif, Times New Roman, serif" font-weight="bold" font-size="68.5" text-anchor="end" fill="#000">-40</text>
<text transform="translate(255.5,1179.6) scale(1.103,1)" font-family="Liberation Serif, Times New Roman, serif" font-weight="bold" font-size="68.5" text-anchor="middle" fill="#000">4.5</text>
<text transform="translate(626.75,1179.6) scale(1.103,1)" font-family="Liberation Serif, Times New Roman, serif" font-weight="bold" font-size="68.5" text-anchor="middle" fill="#000">5.0</text>
<text transform="translate(998.0,1179.6) scale(1.103,1)" font-family="Liberation Serif, Times New Roman, serif" font-weight="bold" font-size="68.5" text-anchor="middle" fill="#000">5.5</text>
<text transform="translate(1369.25,1179.6) scale(1.103,1)" font-family="Liberation Serif, Times New Roman, serif" font-weight="bold" font-size="68.5" text-anchor="middle" fill="#000">6.0</text>
<text transform="translate(1740.5,1179.6) scale(1.103,1)" font-family="Liberation Serif, Times New Roman, serif" font-weight="bold" font-size="68.5" text-anchor="middle" fill="#000">6.5</text>
<text transform="translate(965,1257) scale(1.11,1)" font-family="Liberation Serif, Times New Roman, serif" font-weight="bold" font-size="66.5" text-anchor="middle" fill="#000">Frequency/GHz</text>
<text transform="translate(74,665) rotate(-90) scale(1,1.085)" font-family="Liberation Serif, Times New Roman, serif" font-weight="bold" font-size="66.2" fill="#000">S<tspan font-size="43.5" dy="18.5">12</tspan><tspan dy="-18.5">(dB)</tspan></text>
<rect x="880.5" y="694.5" width="645" height="274" fill="#fff" stroke="#000" stroke-width="1.5"/>
<g transform="scale(1.1,1)" fill="none" stroke-width="14.9" stroke-linecap="round" shape-rendering="crispEdges">
<path d="M808.64,732.4 L877.64,732.4" stroke="#ff00ff"/>
<path d="M808.64,799.4 L893.18,799.4" stroke="#ff8000"/>
<path d="M808.64,866.1 L870.27,866.1 M924.27,866.1 L931.82,866.1" stroke="#741414"/>
<path d="M808.64,932.9 L931.82,932.9" stroke="#0000ff"/>
</g>
<text transform="translate(1038.8,750.0) scale(1.147,1)" font-family="Liberation Serif, Times New Roman, serif" font-weight="bold" font-size="53" text-anchor="start" fill="#000">Split width 0.2mm</text>
<text transform="translate(1038.8,817.0) scale(1.147,1)" font-family="Liberation Serif, Times New Roman, serif" font-weight="bold" font-size="53" text-anchor="start" fill="#000">Split width 0.3mm</text>
<text transform="translate(1038.8,883.7) scale(1.147,1)" font-family="Liberation Serif, Times New Roman, serif" font-weight="bold" font-size="53" text-anchor="start" fill="#000">Split width 0.4mm</text>
<text transform="translate(1038.8,950.5) scale(1.147,1)" font-family="Liberation Serif, Times New Roman, serif" font-weight="bold" font-size="53" text-anchor="start" fill="#000">Split width 0.5mm</text>
</svg>
</body></html>
